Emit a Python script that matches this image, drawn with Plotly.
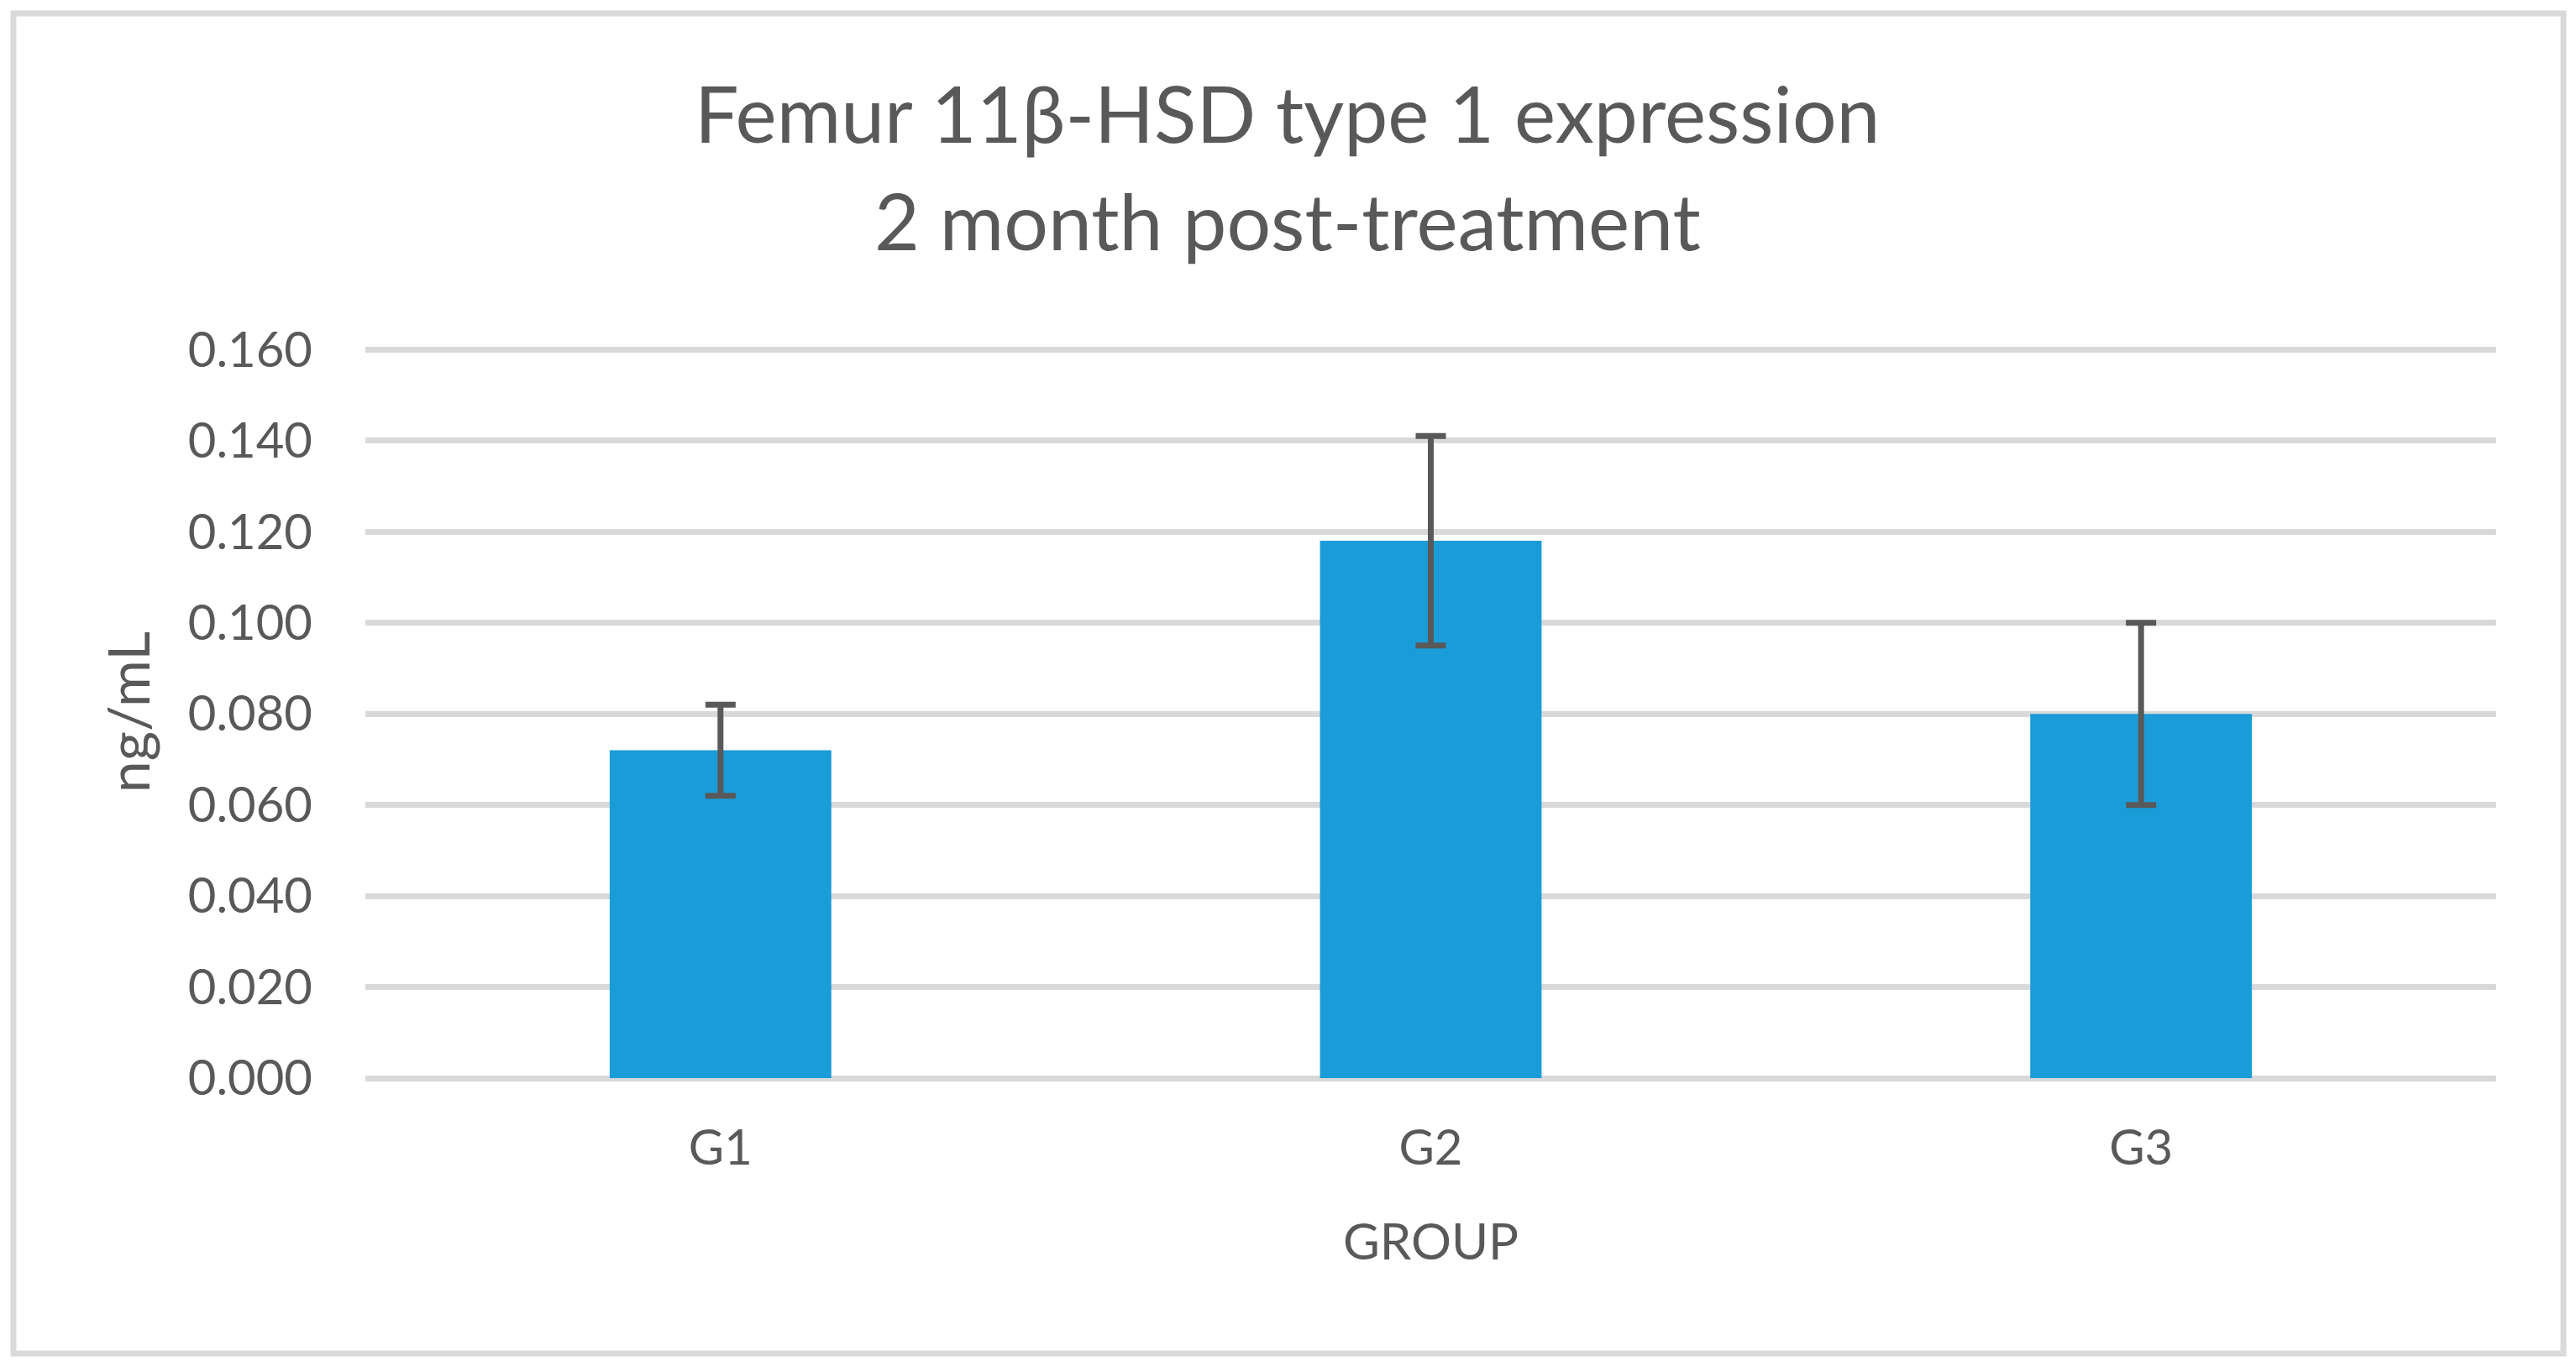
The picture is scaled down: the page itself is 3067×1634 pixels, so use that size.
import plotly.graph_objects as go

groups = ["G1", "G2", "G3"]
means = [0.072, 0.118, 0.080]
errors = [0.010, 0.023, 0.020]
y_ticks = [0.000, 0.020, 0.040, 0.060, 0.080, 0.100, 0.120, 0.140, 0.160]

# page body adds an 8px margin, so the figure is 8px smaller and shifted
OFF = 8
W, H = 3067 - OFF, 1634 - OFF
L, T = 435 - OFF, 412 - OFF
R, B = 95, 350
FONT = "Lato"
GREY = "#595959"


def px_x(px):
    return (px - OFF - L) / (W - L - R)


def px_y(py):
    return (H - B - (py - OFF)) / (H - T - B)


fig = go.Figure(
    go.Bar(
        x=groups,
        y=means,
        marker=dict(color="#1a9cd8", line=dict(width=0)),
        width=0.312,
        error_y=dict(type="data", array=errors, visible=True,
                     color=GREY, thickness=7, width=18),
    )
)

fig.update_layout(
    width=W,
    height=H,
    margin=dict(l=L, r=R, t=T, b=B),
    paper_bgcolor="white",
    plot_bgcolor="white",
    showlegend=False,
    font=dict(family=FONT, color=GREY, size=58),
    xaxis=dict(
        showgrid=False,
        showline=False,
        zeroline=False,
        ticks="outside",
        ticklen=32,
        tickcolor="rgba(0,0,0,0)",
        tickfont=dict(size=58, color=GREY),
        title=dict(text="GROUP", font=dict(size=60, color=GREY), standoff=60),
    ),
    yaxis=dict(
        range=[0, 0.1608],
        tickvals=y_ticks,
        tickformat=".3f",
        showgrid=True,
        gridcolor="#d9d9d9",
        gridwidth=7,
        zeroline=True,
        zerolinecolor="#d9d9d9",
        zerolinewidth=7,
        showline=False,
        ticklabelstandoff=62,
        tickfont=dict(size=58, color=GREY),
        title=dict(text="ng/mL", font=dict(size=68, color=GREY), standoff=22),
    ),
    annotations=[
        dict(text="Femur 11β-HSD type 1 expression", xref="paper", yref="paper",
             x=px_x(1533), y=px_y(134), xanchor="center", yanchor="middle",
             showarrow=False, font=dict(size=93, color=GREY, family=FONT)),
        dict(text="2 month post-treatment", xref="paper", yref="paper",
             x=px_x(1533), y=px_y(262), xanchor="center", yanchor="middle",
             showarrow=False, font=dict(size=93, color=GREY, family=FONT)),
    ],
    shapes=[
        dict(type="rect", xref="paper", yref="paper",
             x0=px_x(16), x1=px_x(3052), y0=px_y(1612), y1=px_y(16),
             line=dict(color="#d9d9d9", width=7), fillcolor="rgba(0,0,0,0)",
             layer="below"),
    ],
)

fig.write_html("out.html")
